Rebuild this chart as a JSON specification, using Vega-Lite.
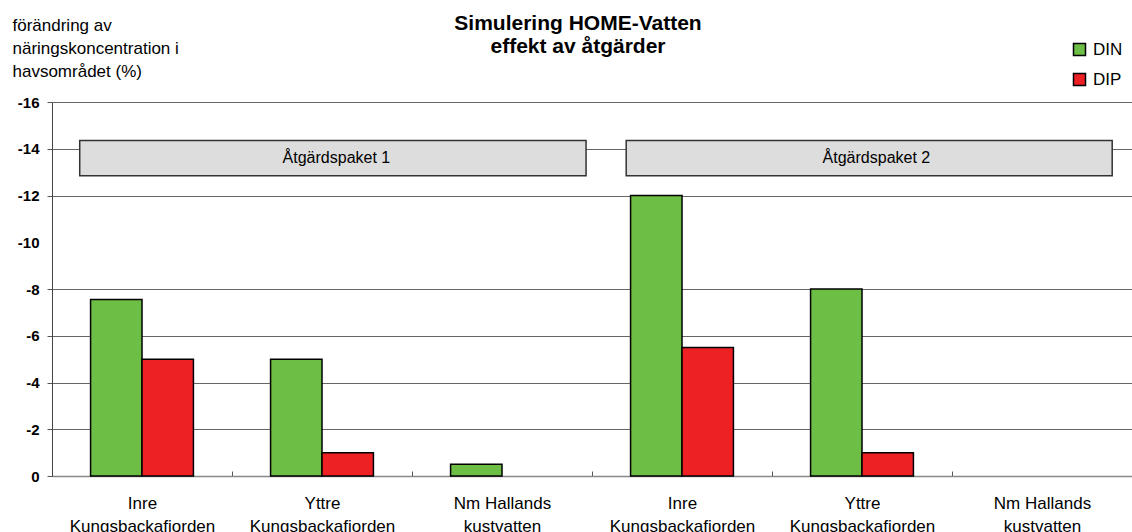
{
  "$schema": "https://vega.github.io/schema/vega-lite/v6.json",
  "width": 1080,
  "height": 374,
  "autosize": "none",
  "padding": {"left": 52, "top": 102, "right": 0, "bottom": 56},
  "background": "white",
  "config": {"view": {"stroke": null}, "font": "Liberation Sans"},
  "title": {
    "text": ["Simulering HOME-Vatten", "effekt av åtgärder"],
    "anchor": "middle",
    "frame": "group",
    "font": "Liberation Sans",
    "fontSize": 21,
    "fontWeight": "bold",
    "color": "#000000",
    "lineHeight": 23,
    "dx": -14,
    "dy": 45
  },
  "datasets": {
    "varden": [
      {"omrade": "1|Inre|Kungsbackafjorden", "amne": "DIN", "forandring": -7.55},
      {"omrade": "1|Inre|Kungsbackafjorden", "amne": "DIP", "forandring": -5},
      {"omrade": "1|Yttre|Kungsbackafjorden", "amne": "DIN", "forandring": -5},
      {"omrade": "1|Yttre|Kungsbackafjorden", "amne": "DIP", "forandring": -1},
      {"omrade": "1|Nm Hallands|kustvatten", "amne": "DIN", "forandring": -0.5},
      {"omrade": "2|Inre|Kungsbackafjorden", "amne": "DIN", "forandring": -12},
      {"omrade": "2|Inre|Kungsbackafjorden", "amne": "DIP", "forandring": -5.5},
      {"omrade": "2|Yttre|Kungsbackafjorden", "amne": "DIN", "forandring": -8},
      {"omrade": "2|Yttre|Kungsbackafjorden", "amne": "DIP", "forandring": -1}
    ],
    "paket": [
      {"paket": "Åtgärdspaket 1", "fra": "1|Inre|Kungsbackafjorden", "till": "1|Nm Hallands|kustvatten", "mitt": "1|Yttre|Kungsbackafjorden"},
      {"paket": "Åtgärdspaket 2", "fra": "2|Inre|Kungsbackafjorden", "till": "2|Nm Hallands|kustvatten", "mitt": "2|Yttre|Kungsbackafjorden"}
    ]
  },
  "layer": [
    {
      "data": {"name": "varden"},
      "mark": {"type": "bar", "stroke": "#000000", "strokeWidth": 1.5},
      "encoding": {
        "x": {
          "field": "omrade",
          "type": "nominal",
          "sort": null,
          "scale": {
            "domain": ["1|Inre|Kungsbackafjorden", "1|Yttre|Kungsbackafjorden", "1|Nm Hallands|kustvatten", "2|Inre|Kungsbackafjorden", "2|Yttre|Kungsbackafjorden", "2|Nm Hallands|kustvatten"],
            "paddingInner": 0,
            "paddingOuter": 0
          },
          "axis": {
            "title": null,
            "labelExpr": "slice(split(datum.label, '|'), 1)",
            "labelAngle": 0,
            "labelFontSize": 17,
            "labelLineHeight": 23,
            "labelColor": "#000000",
            "labelLimit": 0,
            "labelPadding": 24,
            "tickBand": "extent",
            "tickSize": -5,
            "tickColor": "#555555",
            "domainColor": "#888888",
            "domainWidth": 1.5,
            "grid": false
          }
        },
        "xOffset": {
          "field": "amne",
          "type": "nominal",
          "scale": {"domain": ["DIN", "DIP"], "paddingInner": 0, "paddingOuter": 0.75}
        },
        "y": {
          "field": "forandring",
          "type": "quantitative",
          "scale": {"domain": [-16, 0], "reverse": true, "nice": false, "zero": true},
          "axis": {
            "values": [-16, -14, -12, -10, -8, -6, -4, -2, 0],
            "labelExpr": "'' + datum.value",
            "labelFontSize": 15,
            "labelFontWeight": "bold",
            "labelColor": "#000000",
            "labelPadding": 8,
            "tickSize": 5,
            "tickColor": "#555555",
            "tickOpacity": {"condition": {"test": "datum.value === -10", "value": 0}, "value": 1},
            "grid": true,
            "gridColor": "#666666",
            "gridOpacity": {"condition": {"test": "datum.value === -10", "value": 0}, "value": 1},
            "domainColor": "#444444",
            "title": ["förändring av", "näringskoncentration i", "havsområdet (%)"],
            "titleAngle": 0,
            "titleAlign": "left",
            "titleBaseline": "alphabetic",
            "titleX": -40,
            "titleY": -72,
            "titleFontSize": 17,
            "titleFontWeight": "normal",
            "titleColor": "#000000",
            "titleLineHeight": 23
          }
        },
        "color": {
          "field": "amne",
          "type": "nominal",
          "scale": {"domain": ["DIN", "DIP"], "range": ["#6cbe45", "#ed2024"]},
          "legend": {
            "title": null,
            "orient": "none",
            "legendX": 1019,
            "legendY": -61,
            "symbolType": "square",
            "symbolSize": 144,
            "symbolStrokeColor": "#000000",
            "symbolStrokeWidth": 1.5,
            "symbolOpacity": 1,
            "labelFontSize": 17,
            "labelColor": "#000000",
            "labelOffset": 5,
            "rowPadding": 11,
            "padding": 0
          }
        }
      }
    },
    {
      "data": {"name": "paket"},
      "transform": [{"filter": "datum.paket === 'Åtgärdspaket 1'"}],
      "mark": {"type": "rect", "fill": "#dddddd", "stroke": "#333333", "strokeWidth": 1.5},
      "encoding": {
        "x": {"field": "fra", "type": "nominal", "bandPosition": 0.154},
        "x2": {"field": "till", "bandPosition": 0.967},
        "y": {"datum": -14.35},
        "y2": {"datum": -12.85}
      }
    },
    {
      "data": {"name": "paket"},
      "transform": [{"filter": "datum.paket === 'Åtgärdspaket 2'"}],
      "mark": {"type": "rect", "fill": "#dddddd", "stroke": "#333333", "strokeWidth": 1.5},
      "encoding": {
        "x": {"field": "fra", "type": "nominal", "bandPosition": 0.19},
        "x2": {"field": "till", "bandPosition": 0.89},
        "y": {"datum": -14.35},
        "y2": {"datum": -12.85}
      }
    },
    {
      "data": {"name": "paket"},
      "mark": {"type": "text", "fontSize": 16, "color": "#000000", "baseline": "middle", "align": "center"},
      "encoding": {
        "x": {"field": "mitt", "type": "nominal", "bandPosition": 0.58},
        "y": {"datum": -13.6},
        "text": {"field": "paket"}
      }
    }
  ]
}
